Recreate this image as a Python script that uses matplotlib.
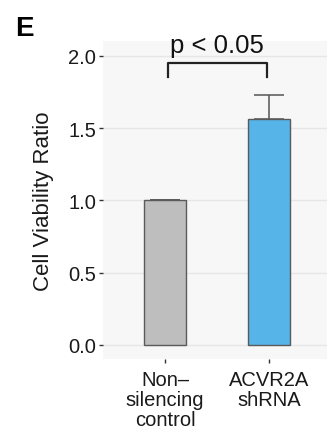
import matplotlib
matplotlib.use("Agg")
from matplotlib import pyplot as plt
import numpy as np

# data
groups = ["Non–\nsilencing\ncontrol", "ACVR2A\nshRNA"]
viability = [1.0, 1.56]
err = [0.0, 0.17]
colors = ["#bebebe", "#56b4e9"]
yticks = [0.0, 0.5, 1.0, 1.5, 2.0]
p_text = "p < 0.05"

plt.rcParams['font.family'] = ['Liberation Sans', 'DejaVu Sans']

fig = plt.figure(figsize=(3.27, 4.27), dpi=100)
ax = fig.add_axes([0.315, 0.157, 0.697, 0.745])
ax.set_facecolor("#f7f7f7")

x = np.arange(1, len(groups) + 1)
ax.errorbar(x, viability, yerr=[np.zeros(len(err)), err], fmt='none',
            ecolor="#555555", elinewidth=1.1, capsize=10.5, capthick=1.1, zorder=2)
ax.bar(x, viability, width=0.41, color=colors, edgecolor="#5a5a5a",
       linewidth=1.0, zorder=3)

# significance bracket
bx = [1.03, 1.03, 1.98, 1.98]
by = [1.855, 1.95, 1.95, 1.855]
ax.plot(bx, by, color="#222222", linewidth=1.6, clip_on=False, zorder=4)
ax.text(1.5, 1.99, p_text, ha='center', va='bottom', fontsize=18.5, color="#111111")

ax.set_xlim(0.4, 2.6)
ax.set_ylim(-0.097, 2.104)
ax.set_xticks(x)
ax.set_xticklabels(groups, fontsize=14.5, linespacing=1.08)
ax.set_yticks(yticks)
ax.set_yticklabels([f"{v:.1f}" for v in yticks], fontsize=14.5)
ax.tick_params(axis='both', length=3, width=1, color="#333333", labelcolor="#1a1a1a", pad=2)
ax.tick_params(axis='x', pad=5)
ax.yaxis.grid(True, color="#e6e6e6", linewidth=1.0)
ax.set_axisbelow(True)
for s in ax.spines.values():
    s.set_visible(False)

ax.set_ylabel("Cell Viability Ratio", fontsize=16, color="#1a1a1a", labelpad=10)

fig.text(0.047, 0.963, "E", fontsize=20, fontweight='bold', ha='left', va='top')

fig.savefig("out.png", dpi=100)
